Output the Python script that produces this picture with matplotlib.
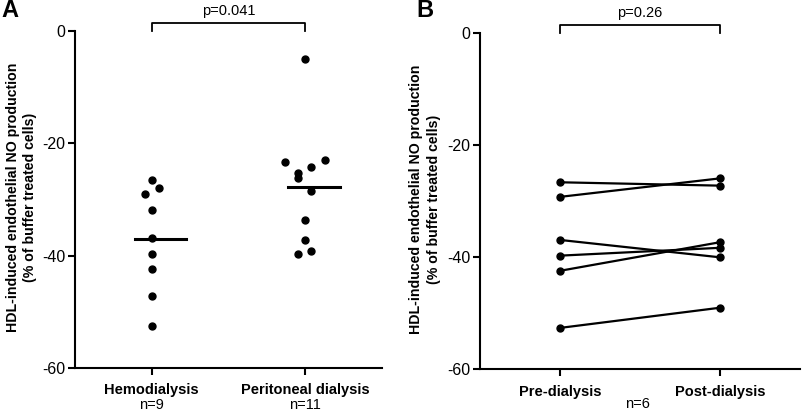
import matplotlib
matplotlib.use("Agg")
import matplotlib.pyplot as plt
import numpy as np

plt.rcParams['font.family'] = ['Liberation Sans', 'DejaVu Sans']

# ----------------------------------------------------------------------
# Data
# ----------------------------------------------------------------------
hd_values = [-26.5, -29.1, -27.9, -31.9, -36.8, -39.7, -42.4, -47.2, -52.5]
hd_jitter = [0.0, -0.045, 0.045, 0.0, 0.0, 0.0, 0.0, 0.0, 0.0]
hd_median = -37.1

pd_values = [-5.0, -23.3, -23.0, -24.3, -25.3, -26.2, -28.4, -33.6, -37.2, -39.7, -39.1]
pd_jitter = [0.0, -0.135, 0.13, 0.04, -0.045, -0.045, 0.04, 0.0, 0.0, -0.045, 0.04]
pd_median = -27.7

a_labels = ["Hemodialysis", "Peritoneal dialysis"]
a_counts = ["n=9", "n=11"]
a_pvalue = "p=0.041"

pre_values = [-26.6, -29.2, -36.9, -39.7, -42.4, -52.6]
post_values = [-27.2, -25.9, -40.0, -38.3, -37.3, -49.0]
b_labels = ["Pre-dialysis", "Post-dialysis"]
b_count = "n=6"
b_pvalue = "p=0.26"

ylabel = "HDL-induced endothelial NO production\n(% of buffer treated cells)"
yticks = [0, -20, -40, -60]

# ----------------------------------------------------------------------
# Figure
# ----------------------------------------------------------------------
fig = plt.figure(figsize=(8.02, 4.12), dpi=100)
axA = fig.add_axes([0.0935, 0.1068, 0.3828, 0.818])
axB = fig.add_axes([0.5989, 0.1036, 0.3986, 0.8155])


def style_axis(ax, labels):
    ax.set_xlim(-0.5, 1.5)
    ax.set_ylim(-60, 0)
    for s in ['top', 'right']:
        ax.spines[s].set_visible(False)
    for s in ['left', 'bottom']:
        ax.spines[s].set_linewidth(1.5)
    ax.set_yticks(yticks)
    ax.set_yticklabels([str(t) for t in yticks], fontsize=11.5)
    ax.set_xticks([0, 1])
    ax.set_xticklabels(labels, fontsize=10.5, fontweight='bold')
    ax.tick_params(axis='both', length=5, width=1.5, direction='out')
    ax.tick_params(axis='y', pad=2)
    ax.tick_params(axis='x', pad=6)
    ax.set_ylabel(ylabel, fontsize=10.2, fontweight='bold', multialignment='center',
                  linespacing=1.3)


def bracket(ax, text):
    ax.plot([0, 0, 1, 1], [0.0, 1.45, 1.45, 0.0], color='black', lw=1.3, clip_on=False)
    ax.text(0.5, 3.6, text, ha='center', va='center', fontsize=10.5, clip_on=False)


# Panel A
style_axis(axA, a_labels)
axA.plot(np.array(hd_jitter), hd_values, 'o', color='black', markersize=5, clip_on=False)
axA.plot(1 + np.array(pd_jitter), pd_values, 'o', color='black', markersize=5, clip_on=False)
axA.plot([-0.11, 0.225], [hd_median, hd_median], color='black', lw=2.2)
axA.plot([0.89, 1.225], [pd_median, pd_median], color='black', lw=2.2)
for i, n in enumerate(a_counts):
    axA.text(i, -0.11, n, transform=axA.get_xaxis_transform(), ha='center', va='center', fontsize=10.5)
bracket(axA, a_pvalue)
axA.yaxis.set_label_coords(-0.124, 0.506)

# Panel B
style_axis(axB, b_labels)
for pre, post in zip(pre_values, post_values):
    axB.plot([0, 1], [pre, post], '-o', color='black', lw=1.6, markersize=5)
fig.text(0.795, 0.02, b_count, ha='center', va='center', fontsize=10.5)
bracket(axB, b_pvalue)
axB.yaxis.set_label_coords(-0.124, 0.506)

fig.text(0.002, 0.975, "A", fontsize=17, fontweight='bold', ha='left', va='center')
fig.text(0.519, 0.975, "B", fontsize=17, fontweight='bold', ha='left', va='center')

fig.savefig("out.png", dpi=100)
